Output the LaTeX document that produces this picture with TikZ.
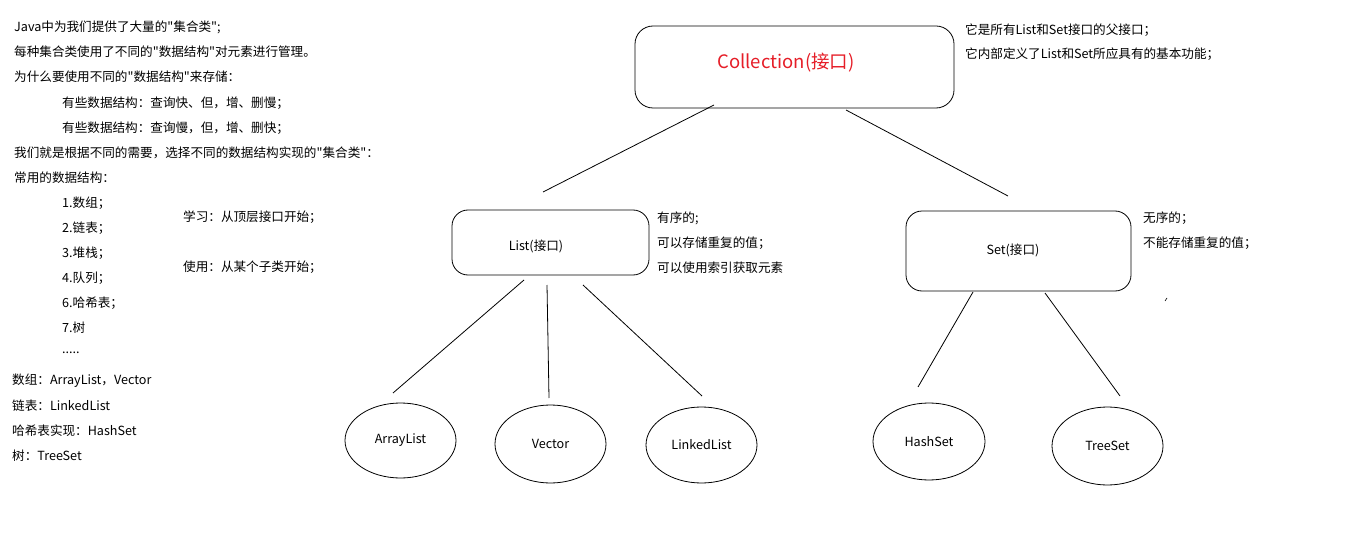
\documentclass[tikz,border=0pt]{standalone}
\usepackage{fontspec}
\newfontfamily\cjkfont{Noto Sans CJK SC}
\usetikzlibrary{shapes.geometric}
\definecolor{cred}{RGB}{230,30,40}
\begin{document}
\begin{tikzpicture}[x=1pt,y=-1pt,
  txt/.style={anchor=west,inner sep=0pt,font=\cjkfont\fontsize{12.6}{12.6}\selectfont},
  lbl/.style={inner sep=0pt,font=\cjkfont\fontsize{12.6}{12.6}\selectfont},
  ibox/.style={draw,line width=0.8pt,rounded corners=16pt,inner sep=0pt},
  cls/.style={draw,ellipse,line width=0.8pt,inner sep=0pt,font=\cjkfont\fontsize{12.6}{12.6}\selectfont},
  link/.style={line width=0.8pt}]
\useasboundingbox (0,0) rectangle (1354,556);
\fill[white] (0,0) rectangle (1354,556);
% left notes
\node[txt] (l1) at (14,27) {Java中为我们提供了大量的"集合类";};
\node[txt] (l2) at (14,52) {每种集合类使用了不同的"数据结构"对元素进行管理。};
\node[txt] (l3) at (14,77) {为什么要使用不同的"数据结构"来存储：};
\node[txt] (l4) at (62,103) {有些数据结构：查询快、但，增、删慢；};
\node[txt] (l5) at (62,128) {有些数据结构：查询慢，但，增、删快；};
\node[txt] (l6) at (14,153) {我们就是根据不同的需要，选择不同的数据结构实现的"集合类"：};
\node[txt] (l7) at (14,178) {常用的数据结构：};
\node[txt] (d1) at (62,203) {1.数组；};
\node[txt] (d2) at (62,228) {2.链表；};
\node[txt] (d3) at (62,253) {3.堆栈；};
\node[txt] (d4) at (62,278) {4.队列；};
\node[txt] (d6) at (62,303) {6.哈希表；};
\node[txt] (d7) at (62,328) {7.树};
\node[txt] (d8) at (62,353) {.....};
\node[txt] (m1) at (12,381) {数组：ArrayList，Vector};
\node[txt] (m2) at (12,406) {链表：LinkedList};
\node[txt] (m3) at (12,431) {哈希表实现：HashSet};
\node[txt] (m4) at (12,456) {树：TreeSet};
\node[txt] (s1) at (183,217) {学习：从顶层接口开始；};
\node[txt] (s2) at (183,267) {使用：从某个子类开始；};
% interfaces
\node[ibox,rounded corners=18pt,minimum width=319pt,minimum height=82pt] (coll) at (794.5,67) {};
\node[inner sep=0pt,text=cred,font=\cjkfont\fontsize{18.5}{18.5}\selectfont] (collt) at (786,63) {Collection(接口)};
\node[txt] (c1) at (965,30) {它是所有List和Set接口的父接口；};
\node[txt] (c2) at (965,54) {它内部定义了List和Set所应具有的基本功能；};
\node[ibox,minimum width=197pt,minimum height=65pt] (list) at (550.5,242.5) {};
\node[lbl] (listt) at (536,246) {List(接口)};
\node[txt] (li1) at (657,218) {有序的;};
\node[txt] (li2) at (657,243) {可以存储重复的值；};
\node[txt] (li3) at (657,268) {可以使用索引获取元素};
\node[ibox,minimum width=225pt,minimum height=80pt] (set) at (1018.5,251) {};
\node[lbl] (sett) at (1013,250) {Set(接口)};
\node[txt] (se1) at (1143,218) {无序的；};
\node[txt] (se2) at (1143,243) {不能存储重复的值；};
% classes
\node[cls,minimum width=111pt,minimum height=75pt] (al) at (400.5,440.5) {ArrayList};
\node[cls,minimum width=111pt,minimum height=78pt] (vec) at (550.5,444) {Vector};
\node[cls,minimum width=111pt,minimum height=76pt] (ll) at (701.5,445) {LinkedList};
\node[cls,minimum width=112pt,minimum height=77pt] (hs) at (929,441.5) {HashSet};
\node[cls,minimum width=111pt,minimum height=78pt] (ts) at (1107.5,446) {TreeSet};
% connector ends
\coordinate (cA) at (714,105); \coordinate (lA) at (543,192);
\coordinate (cB) at (846,110); \coordinate (sA) at (1008,196);
\coordinate (l1a) at (524,280); \coordinate (al1) at (393,393);
\coordinate (l2a) at (547,285); \coordinate (vec1) at (549,398);
\coordinate (l3a) at (583,285); \coordinate (ll1) at (702,396);
\coordinate (s1a) at (973,292); \coordinate (hs1) at (918,387);
\coordinate (s2a) at (1045,293); \coordinate (ts1) at (1120,396);
\draw[link] (cA) -- (lA);
\draw[link] (cB) -- (sA);
\draw[link] (l1a) -- (al1);
\draw[link] (l2a) -- (vec1);
\draw[link] (l3a) -- (ll1);
\draw[link] (s1a) -- (hs1);
\draw[link] (s2a) -- (ts1);
% stray mark
\coordinate (st1) at (1165,301); \coordinate (st2) at (1167,298);
\draw[line width=0.6pt] (st1) -- (st2);
\end{tikzpicture}
\end{document}
